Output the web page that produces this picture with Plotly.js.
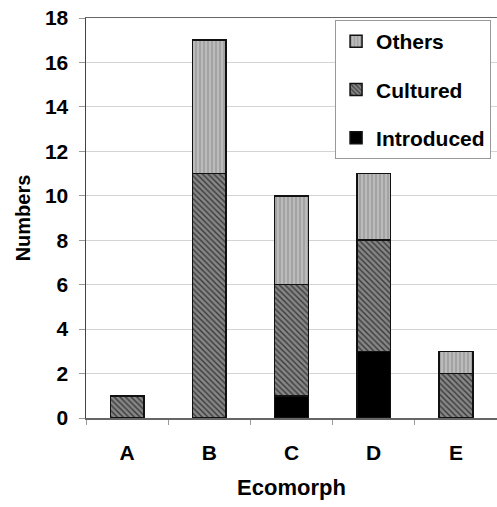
<!DOCTYPE html>
<html>
<head>
<meta charset="utf-8">
<script src="https://cdn.plot.ly/plotly-3.0.1.min.js"></script>
<style>html,body{margin:0;padding:0;background:#fff;}#chart{width:497px;height:507px;}</style>
</head>
<body>
<div id="chart"></div>
<script>
var categories = ["A", "B", "C", "D", "E"];
var introduced = [0, 0, 1, 3, 0];
var cultured = [1, 11, 5, 5, 2];
var others = [0, 6, 4, 3, 1];
var yTicks = [0, 2, 4, 6, 8, 10, 12, 14, 16, 18];

var FONT = "Liberation Sans, Arial, sans-serif";
var barW = 0.41;
var outline = {color: "#111", width: 1.5};

var traces = [
  {type: "bar", name: "Introduced", x: categories, y: introduced, width: barW,
   legendgroup: "i", legendrank: 3,
   marker: {color: "#000", line: outline}},
  {type: "bar", name: "Cultured", x: categories, y: cultured, width: barW,
   legendgroup: "c", legendrank: 2,
   marker: {color: "#7a7a7a", line: outline,
            pattern: {shape: "\\", bgcolor: "#868686", fgcolor: "#3a3a3a", size: 4, solidity: 0.35, fillmode: "replace"}}},
  {type: "bar", name: "Others", x: categories, y: others, width: barW,
   legendgroup: "o", legendrank: 1,
   marker: {color: "#b5b5b5", line: outline,
            pattern: {shape: "|", bgcolor: "#bbbbbb", fgcolor: "#939393", size: 4, solidity: 0.3, fillmode: "replace"}}}
];

var layout = {
  width: 497, height: 507,
  margin: {l: 86, r: 0, t: 18, b: 89},
  barmode: "stack",
  paper_bgcolor: "#fff", plot_bgcolor: "#fff",
  font: {family: FONT, size: 21, color: "#000", weight: "bold"},
  showlegend: true,
  legend: {
    x: 0.606, y: 0.995, xanchor: "left", yanchor: "top",
    bgcolor: "#fff", bordercolor: "#999", borderwidth: 1,
    traceorder: "grouped", tracegroupgap: 18,
    font: {family: FONT, size: 21, color: "#000", weight: "bold"}
  },
  xaxis: {
    type: "category", range: [-0.5, 4.5],
    showline: true, linecolor: "#666", linewidth: 1.5, mirror: true,
    ticks: "outside", tickson: "boundaries", ticklen: 5, tickcolor: "#999",
    ticklabelstandoff: 15,
    showgrid: false,
    tickfont: {family: FONT, size: 21, weight: "bold"},
    title: {text: "Ecomorph", standoff: 17, font: {family: FONT, size: 22, weight: "bold"}}
  },
  yaxis: {
    range: [0, 18], tickvals: yTicks,
    showline: true, linecolor: "#444", linewidth: 1.5,
    ticks: "outside", ticklen: 6, tickcolor: "#999",
    ticklabelstandoff: 6,
    showgrid: true, gridcolor: "#d4d4d4", gridwidth: 1,
    zeroline: false,
    tickfont: {family: FONT, size: 21, weight: "bold"},
    title: {text: "Numbers", standoff: 9, font: {family: FONT, size: 20, weight: "bold"}}
  }
};

Plotly.newPlot("chart", traces, layout, {displayModeBar: false, staticPlot: true});
</script>
</body>
</html>
